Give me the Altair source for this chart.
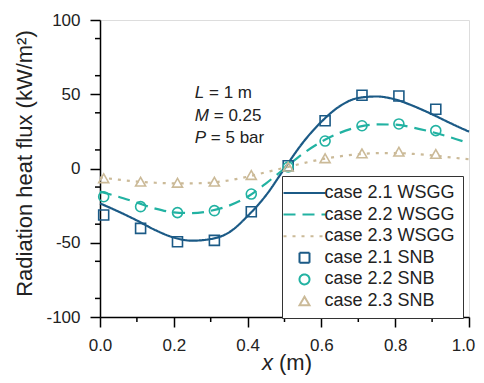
import altair as alt
import pandas as pd

# ---------------- data ----------------
x_wsgg = [0.0, 0.05, 0.1, 0.15, 0.2, 0.25, 0.3, 0.35, 0.4, 0.45, 0.5,
          0.55, 0.6, 0.65, 0.7, 0.75, 0.8, 0.85, 0.9, 0.95, 1.0]
wsgg_21 = [-23.5, -29.0, -35.0, -41.5, -46.5, -48.6, -47.5, -43.0, -32.0, -18.0, 0.0,
           17.5, 31.5, 42.0, 47.5, 48.5, 46.5, 42.0, 36.5, 30.5, 24.8]
wsgg_22 = [-15.6, -19.0, -23.0, -27.0, -29.5, -30.0, -28.5, -25.0, -19.0, -10.0, 0.0,
           10.0, 18.0, 24.0, 28.0, 29.7, 29.5, 27.5, 24.5, 21.0, 17.0]
wsgg_23 = [-6.0, -7.5, -8.8, -9.6, -10.0, -10.0, -9.5, -8.0, -5.5, -2.5, 0.5,
           3.5, 6.2, 8.2, 9.6, 10.3, 10.4, 9.8, 8.8, 7.5, 6.2]

x_snb = [0.01, 0.11, 0.21, 0.31, 0.41, 0.51, 0.61, 0.71, 0.81, 0.91]
snb_21 = [-31.3, -40.3, -49.3, -48.4, -29.1, 1.9, 32.2, 49.3, 48.8, 39.9]
snb_22 = [-19.0, -25.7, -29.7, -28.4, -17.2, 1.0, 18.5, 28.8, 30.0, 25.5]
snb_23 = [-6.6, -8.9, -9.6, -8.9, -4.4, 1.2, 6.9, 10.2, 11.3, 9.8]

series_names = ["case 2.1 WSGG", "case 2.2 WSGG", "case 2.3 WSGG",
                "case 2.1 SNB", "case 2.2 SNB", "case 2.3 SNB"]
series_colors = ["#1b5a86", "#22b2a2", "#cbba98",
                 "#1b5a86", "#22b2a2", "#cbba98"]
series_shapes = ["M-4.2,0H4.2", "M-4.2,0H4.2", "M-4.2,0H4.2",
                 "square", "circle", "triangle-up"]
series_dashes = [[1, 0], [12, 7], [3, 6], [1, 0], [1, 0], [1, 0]]

x_ticks = [0.0, 0.2, 0.4, 0.6, 0.8, 1.0]
x_minor = [0.1, 0.3, 0.5, 0.7, 0.9]
y_ticks = [-100, -75, -50, -25, 0, 25, 50, 75, 100]
y_minor = [-87.5, -62.5, -37.5, -12.5, 12.5, 37.5, 62.5, 87.5]

note_letters = ["L", "M", "P"]
note_rest = ["= 1 m", "= 0.25", "= 5 bar"]
note_y = [50.8, 35.4, 20.5]
note_x = 0.257
note_gap = [14.2, 18.9, 16.0]

FONT = "Liberation Sans"
W, H = 369, 297

# ---------------- tables ----------------
lines_df = pd.concat([
    pd.DataFrame({"x": x_wsgg, "y": wsgg_21, "series": series_names[0]}),
    pd.DataFrame({"x": x_wsgg, "y": wsgg_22, "series": series_names[1]}),
    pd.DataFrame({"x": x_wsgg, "y": wsgg_23, "series": series_names[2]}),
])
points_df = pd.concat([
    pd.DataFrame({"x": x_snb, "y": snb_21, "series": series_names[3]}),
    pd.DataFrame({"x": x_snb, "y": snb_22, "series": series_names[4]}),
    pd.DataFrame({"x": x_snb, "y": snb_23, "series": series_names[5]}),
])
notes_df = pd.DataFrame({"letter": note_letters, "rest": note_rest,
                         "y": note_y, "x": note_x})

legend = alt.Legend(
    title=None, orient="none", legendX=182, legendY=156,
    fillColor="white", strokeColor="#333333", padding=8,
    symbolSize=100, symbolStrokeWidth=2, symbolOffset=5.5, labelOffset=11,
    labelFont=FONT, labelFontSize=18, labelColor="#222222", rowPadding=3.6,
    symbolLimit=0,
)

x_scale = alt.Scale(domain=[0, 1], nice=False, zero=False)
y_scale = alt.Scale(domain=[-100, 100], nice=False)

x_axis = alt.Axis(values=x_ticks, format=".1f", tickSize=10, tickWidth=1.5,
                  tickColor="black", domainColor="black", domainWidth=1.5,
                  labelFont=FONT, labelFontSize=17, labelColor="#222222",
                  labelPadding=10, labelFlush=False, grid=False, title=None,
                  labelOffset={"condition": {"test": "datum.value == 1", "value": -6}, "value": 0})
y_axis = alt.Axis(values=y_ticks, labelExpr="'' + datum.value", tickSize=10,
                  tickWidth=1.5, tickColor="black", domainColor="black",
                  domainWidth=1.5, labelFont=FONT, labelFontSize=17,
                  labelColor="#222222", labelPadding=10, grid=False,
                  title="Radiation heat flux (kW/m²)", titleFont=FONT,
                  titleFontSize=22, titleFontWeight="normal",
                  titleColor="#222222", titleAngle=270, titleX=-69,
                  titleY=143, titleBaseline="alphabetic", titleAlign="center")

color_enc = alt.Color("series:N", scale=alt.Scale(domain=series_names, range=series_colors), legend=legend)
shape_enc = alt.Shape("series:N", scale=alt.Scale(domain=series_names, range=series_shapes), legend=legend)
dash_enc = alt.StrokeDash("series:N", scale=alt.Scale(domain=series_names, range=series_dashes), legend=legend)

lines = alt.Chart(lines_df).mark_line(interpolate="monotone", strokeWidth=2.2).encode(
    x=alt.X("x:Q", scale=x_scale, axis=x_axis),
    y=alt.Y("y:Q", scale=y_scale, axis=y_axis),
    color=color_enc,
    strokeDash=dash_enc,
    detail="series:N",
)

points = alt.Chart(points_df).mark_point(filled=False, size=100, strokeWidth=1.6, opacity=1).encode(
    x=alt.X("x:Q", scale=x_scale),
    y=alt.Y("y:Q", scale=y_scale),
    color=color_enc,
    shape=shape_enc,
)

y_minor_rules = alt.Chart(pd.DataFrame({"y": y_minor})).mark_rule(color="black", strokeWidth=1.5).encode(
    y=alt.Y("y:Q", scale=y_scale), x=alt.value(-5), x2=alt.value(0))
x_minor_rules = alt.Chart(pd.DataFrame({"x": x_minor})).mark_rule(color="black", strokeWidth=1.5).encode(
    x=alt.X("x:Q", scale=x_scale), y=alt.value(H), y2=alt.value(H + 5))

note_letters_layer = alt.Chart(notes_df).mark_text(
    align="left", baseline="middle", font=FONT, fontSize=17, fontStyle="italic", color="#222222"
).encode(x=alt.X("x:Q", scale=x_scale), y=alt.Y("y:Q", scale=y_scale), text="letter:N")

note_rest_layers = []
for letter, gap in zip(note_letters, note_gap):
    note_rest_layers.append(
        alt.Chart(notes_df).transform_filter(alt.datum.letter == letter).mark_text(
            align="left", baseline="middle", font=FONT, fontSize=17, color="#222222", dx=gap
        ).encode(x=alt.X("x:Q", scale=x_scale), y=alt.Y("y:Q", scale=y_scale), text="rest:N")
    )

xt_df = pd.DataFrame({"a": ["x"], "b": ["(m)"]})
x_title_a = alt.Chart(xt_df).mark_text(
    align="right", baseline="alphabetic", font=FONT, fontSize=22, fontStyle="italic", color="#222222"
).encode(x=alt.value(173), y=alt.value(H + 53), text="a:N")
x_title_b = alt.Chart(xt_df).mark_text(
    align="left", baseline="alphabetic", font=FONT, fontSize=22, color="#222222", dx=6
).encode(x=alt.value(173), y=alt.value(H + 53), text="b:N")

chart = alt.layer(
    lines, points, y_minor_rules, x_minor_rules,
    note_letters_layer, *note_rest_layers, x_title_a, x_title_b
).properties(
    width=W, height=H,
    autosize=alt.AutoSizeParams(type="none"),
    padding={"left": 92, "top": 12, "right": 7, "bottom": 58},
).configure_view(stroke="black", strokeWidth=1.5).configure(background="white")

chart.save("out.html", embed_options={"renderer": "svg", "actions": False})
